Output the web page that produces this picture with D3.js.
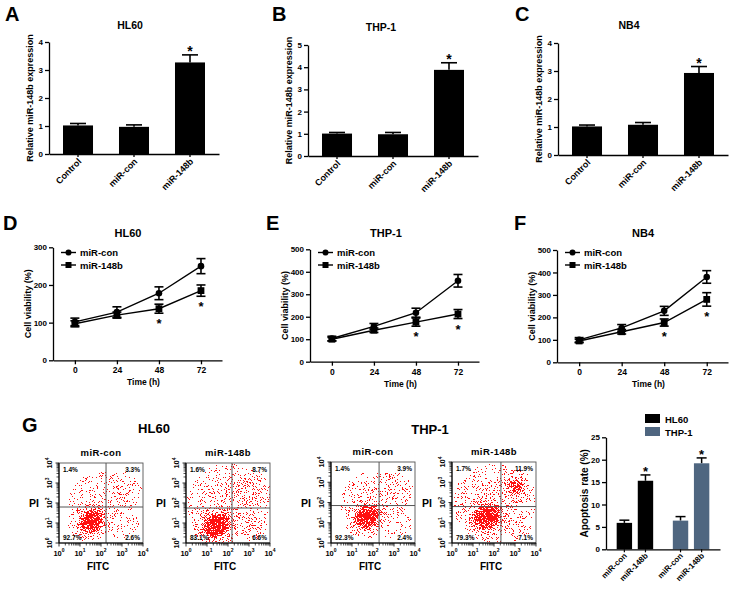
<!DOCTYPE html>
<html><head><meta charset="utf-8">
<script src="https://cdn.jsdelivr.net/npm/d3@7"></script>
<style>
body{margin:0;background:#fff}
svg{display:block}
text{font-family:"Liberation Sans",Arial,Helvetica,sans-serif;font-weight:bold;fill:#000}
</style>
</head><body>
<svg id="c" width="730" height="590"></svg>
<script>
// ---------------- DATA ----------------
const exprCategories = ["Control", "miR-con", "miR-148b"];
const hl60Expr = [1.02, 0.97, 3.27];
const hl60ExprErr = [0.07, 0.07, 0.27];
const thp1Expr = [1.01, 0.98, 3.88];
const thp1ExprErr = [0.05, 0.08, 0.32];
const nb4Expr = [1.02, 1.08, 2.93];
const nb4ExprErr = [0.05, 0.08, 0.23];
const exprStars = [0, 0, 1];

const timePoints = [0, 24, 48, 72];
const viabilitySeries = ["miR-con", "miR-148b"];
const hl60Con = [102, 128, 178, 250];
const hl60ConErr = [10, 14, 17, 20];
const hl60Mir = [97, 120, 137, 185];
const hl60MirErr = [8, 8, 12, 15];
const thp1Con = [103, 157, 218, 360];
const thp1ConErr = [10, 13, 20, 28];
const thp1Mir = [100, 140, 176, 212];
const thp1MirErr = [8, 10, 18, 20];
const nb4Con = [100, 153, 229, 380];
const nb4ConErr = [10, 15, 20, 28];
const nb4Mir = [95, 136, 177, 280];
const nb4MirErr = [8, 10, 16, 30];
const viabilityStars = [0, 0, 1, 1];

const flowCells = ["HL60", "HL60", "THP-1", "THP-1"];
const flowConditions = ["miR-con", "miR-148b", "miR-con", "miR-148b"];
const flowUL = ["1.4%", "1.6%", "1.4%", "1.7%"];
const flowUR = ["3.3%", "8.7%", "3.9%", "11.9%"];
const flowLL = ["92.7%", "83.1%", "92.3%", "79.3%"];
const flowLR = ["2.6%", "6.6%", "2.4%", "7.1%"];
const flowGateX = [2.24, 2.19, 2.29, 2.33];   // log10 FITC gate
const flowGateY = [1.80, 1.75, 1.85, 1.80];   // log10 PI gate
// density blobs of each cloud: [log FITC, log PI, rx, ry (decades), tilt deg, density]
const flowClouds = [
  [[2.0,2.0,2.8,2.8,0,0.03],[1.5,1.15,1.15,1.05,-40,0.35],[1.55,1.1,0.75,0.65,-40,1.0],[2.9,2.6,1.1,1.0,0,0.12],[3.0,0.9,0.9,0.7,0,0.08],[1.5,2.5,0.9,0.7,0,0.05]],
  [[2.0,2.0,2.8,2.8,0,0.045],[1.45,0.95,1.25,1.15,-40,0.4],[1.45,0.85,0.8,0.65,-40,1.0],[2.9,2.6,1.2,1.1,0,0.2],[3.0,0.9,0.9,0.8,0,0.14],[1.5,2.5,0.9,0.8,0,0.09]],
  [[2.0,2.0,2.8,2.8,0,0.03],[1.7,1.3,1.15,1.05,-40,0.35],[1.7,1.3,0.75,0.65,-40,1.0],[2.9,2.6,1.1,1.0,0,0.12],[3.0,0.9,0.9,0.7,0,0.08],[1.5,2.5,0.9,0.7,0,0.05]],
  [[2.0,2.0,2.8,2.8,0,0.045],[1.65,1.3,1.25,1.15,-40,0.4],[1.65,1.3,0.8,0.7,-40,1.0],[2.9,2.7,1.0,1.0,0,0.25],[3.0,2.8,0.5,0.5,0,0.55],[3.0,0.9,0.9,0.8,0,0.14],[1.5,2.5,0.9,0.8,0,0.09]]
];

const apopGroups = ["HL60", "THP-1"];
const apopConditions = ["miR-con", "miR-148b"];
const apopHL60 = [5.9, 15.3];
const apopHL60Err = [0.6, 1.3];
const apopTHP1 = [6.4, 19.2];
const apopTHP1Err = [0.9, 1.2];
const apopStars = [0, 1];
const apopColors = ["#000000", "#4f6680"];

// ---------------- DRAW ----------------
const svg = d3.select("#c");
const defs = svg.append("defs");

function label(g, x, y, s, size, anchor = "middle", rot = 0, weight = "bold") {
  return g.append("text")
    .attr("transform", `translate(${x},${y})` + (rot ? ` rotate(${rot})` : ""))
    .attr("text-anchor", anchor).attr("font-size", size).attr("font-weight", weight).text(s);
}
function styleAxis(a, fs) {
  a.selectAll("path,line").attr("stroke", "#000").attr("stroke-width", 1.3);
  a.selectAll("text").attr("font-size", fs).attr("font-weight", "bold")
    .attr("font-family", '"Liberation Sans",Arial,sans-serif');
}

// ---- Panels A-C ----
const barPanels = [
  {letter: "A", lx: 5, title: "HL60", tx: 130, ty: 29, x0: 49, yTop: 42, yBot: 154, max: 4, vals: hl60Expr, errs: hl60ExprErr},
  {letter: "B", lx: 272, title: "THP-1", tx: 381, ty: 31, x0: 308, yTop: 45, yBot: 156, max: 5, vals: thp1Expr, errs: thp1ExprErr},
  {letter: "C", lx: 515, title: "NB4", tx: 629, ty: 29, x0: 558, yTop: 43, yBot: 155, max: 4, vals: nb4Expr, errs: nb4ExprErr}
];
barPanels.forEach(p => {
  const g = svg.append("g");
  const x = d3.scaleBand().domain(exprCategories).range([p.x0, p.x0 + 170]).paddingInner(0.464).paddingOuter(0.25);
  const y = d3.scaleLinear().domain([0, p.max]).range([p.yBot, p.yTop]);
  const rows = exprCategories.map((c, i) => ({c, v: p.vals[i], e: p.errs[i], s: exprStars[i]}));
  g.selectAll("line.eb").data(rows).join("line")
    .attr("x1", d => x(d.c) + x.bandwidth() / 2).attr("x2", d => x(d.c) + x.bandwidth() / 2)
    .attr("y1", d => y(d.v)).attr("y2", d => y(d.v + d.e)).attr("stroke", "#000").attr("stroke-width", 1.6);
  g.selectAll("line.cap").data(rows).join("line")
    .attr("x1", d => x(d.c) + x.bandwidth() / 2 - 8).attr("x2", d => x(d.c) + x.bandwidth() / 2 + 8)
    .attr("y1", d => y(d.v + d.e)).attr("y2", d => y(d.v + d.e)).attr("stroke", "#000").attr("stroke-width", 1.6);
  g.selectAll("rect").data(rows).join("rect")
    .attr("x", d => x(d.c)).attr("y", d => y(d.v)).attr("width", x.bandwidth())
    .attr("height", d => p.yBot - y(d.v)).attr("fill", "#000");
  g.selectAll("text.star").data(rows.filter(d => d.s)).join("text")
    .attr("x", d => x(d.c) + x.bandwidth() / 2).attr("y", d => y(d.v + d.e) + 1)
    .attr("text-anchor", "middle").attr("font-size", 14).text("*");
  const ay = g.append("g").attr("transform", `translate(${p.x0},0)`)
    .call(d3.axisLeft(y).ticks(p.max).tickSize(4).tickSizeOuter(0).tickPadding(2).tickFormat(d3.format("d")));
  styleAxis(ay, 8);
  const ax = g.append("g").attr("transform", `translate(0,${p.yBot})`)
    .call(d3.axisBottom(x).tickSize(3).tickSizeOuter(0).tickFormat(""));
  styleAxis(ax, 8);
  exprCategories.forEach(c => label(g, x(c) + x.bandwidth() / 2 + 4, p.yBot + 8, c, 9, "end", -45));
  label(g, p.x0 - 16, (p.yTop + p.yBot) / 2, "Relative miR-148b expression", 9, "middle", -90);
  label(g, p.tx, p.ty, p.title, 10.5);
  label(g, p.lx, 21, p.letter, 20, "start");
});

// ---- Panels D-F ----
const linePanels = [
  {letter: "D", lx: 3, title: "HL60", tx: 128, x0: 53, x1: 222, yTop: 247.3, yBot: 360.3, max: 300,
   con: hl60Con, conErr: hl60ConErr, mir: hl60Mir, mirErr: hl60MirErr},
  {letter: "E", lx: 266, title: "THP-1", tx: 386, x0: 310, x1: 479, yTop: 249.3, yBot: 361.7, max: 500,
   con: thp1Con, conErr: thp1ConErr, mir: thp1Mir, mirErr: thp1MirErr},
  {letter: "F", lx: 514, title: "NB4", tx: 643, x0: 557, x1: 728, yTop: 250, yBot: 362.3, max: 500,
   con: nb4Con, conErr: nb4ConErr, mir: nb4Mir, mirErr: nb4MirErr}
];
linePanels.forEach(p => {
  const g = svg.append("g");
  const x = d3.scaleLinear().domain([-12.5, 84]).range([p.x0, p.x1]);
  const y = d3.scaleLinear().domain([0, p.max]).range([p.yBot, p.yTop]);
  const series = [
    {name: viabilitySeries[0], v: p.con, e: p.conErr, shape: "circle"},
    {name: viabilitySeries[1], v: p.mir, e: p.mirErr, shape: "square"}
  ];
  const line = d3.line().x((d, i) => x(timePoints[i])).y(d => y(d));
  series.forEach(s => {
    g.append("path").attr("d", line(s.v)).attr("fill", "none").attr("stroke", "#000").attr("stroke-width", 1.4);
    const pts = s.v.map((v, i) => ({t: timePoints[i], v, e: s.e[i]}));
    g.selectAll(null).data(pts).join("line")
      .attr("x1", d => x(d.t)).attr("x2", d => x(d.t)).attr("y1", d => y(d.v - d.e)).attr("y2", d => y(d.v + d.e))
      .attr("stroke", "#000").attr("stroke-width", 1.6);
    [-1, 1].forEach(sg => g.selectAll(null).data(pts).join("line")
      .attr("x1", d => x(d.t) - 4.5).attr("x2", d => x(d.t) + 4.5)
      .attr("y1", d => y(d.v + sg * d.e)).attr("y2", d => y(d.v + sg * d.e))
      .attr("stroke", "#000").attr("stroke-width", 1.6));
    if (s.shape === "circle") {
      g.selectAll(null).data(pts).join("circle").attr("cx", d => x(d.t)).attr("cy", d => y(d.v)).attr("r", 3.3).attr("fill", "#000");
    } else {
      g.selectAll(null).data(pts).join("rect").attr("x", d => x(d.t) - 3.4).attr("y", d => y(d.v) - 3.4)
        .attr("width", 6.8).attr("height", 6.8).attr("fill", "#000");
    }
  });
  const starPts = timePoints.map((t, i) => ({t, v: p.mir[i], e: p.mirErr[i], s: viabilityStars[i]})).filter(d => d.s);
  g.selectAll("text.star").data(starPts).join("text")
    .attr("x", d => x(d.t)).attr("y", d => y(d.v - d.e) + 15)
    .attr("text-anchor", "middle").attr("font-size", 13).text("*");
  const ay = g.append("g").attr("transform", `translate(${p.x0},0)`)
    .call(d3.axisLeft(y).ticks(p.max / 100).tickSize(4).tickSizeOuter(0).tickPadding(2).tickFormat(d3.format("d")));
  styleAxis(ay, 8);
  const ax = g.append("g").attr("transform", `translate(0,${p.yBot})`)
    .call(d3.axisBottom(x).tickValues(timePoints).tickSize(4).tickSizeOuter(0).tickPadding(3).tickFormat(d3.format("d")));
  styleAxis(ax, 8.5);
  label(g, (p.x0 + p.x1) / 2 + 6, p.yBot + 25, "Time (h)", 8.5);
  label(g, p.x0 - 22, (p.yTop + p.yBot) / 2, "Cell viability (%)", 9, "middle", -90);
  label(g, p.tx, 237, p.title, 11);
  label(g, p.lx, 230, p.letter, 20, "start");
  series.forEach((s, i) => {
    const ly = 252.5 + i * 12.5;
    g.append("line").attr("x1", p.x0 + 8).attr("x2", p.x0 + 23).attr("y1", ly).attr("y2", ly).attr("stroke", "#000").attr("stroke-width", 1.4);
    if (s.shape === "circle") g.append("circle").attr("cx", p.x0 + 15.5).attr("cy", ly).attr("r", 3).attr("fill", "#000");
    else g.append("rect").attr("x", p.x0 + 12.5).attr("y", ly - 3).attr("width", 6).attr("height", 6).attr("fill", "#000");
    label(g, p.x0 + 27, ly + 3.5, s.name, 9.5, "start");
  });
});

// ---- Panel G: flow plots ----
const rg = defs.append("radialGradient").attr("id", "blob");
rg.append("stop").attr("offset", "0%").attr("stop-color", "#fff").attr("stop-opacity", 1);
rg.append("stop").attr("offset", "50%").attr("stop-color", "#fff").attr("stop-opacity", 0.8);
rg.append("stop").attr("offset", "100%").attr("stop-color", "#fff").attr("stop-opacity", 0);
const flt = defs.append("filter").attr("id", "speckle").attr("filterUnits", "userSpaceOnUse")
  .attr("x", 0).attr("y", 0).attr("width", 730).attr("height", 590).attr("color-interpolation-filters", "sRGB");
flt.append("feTurbulence").attr("type", "fractalNoise").attr("baseFrequency", 1.25).attr("numOctaves", 2).attr("seed", 7).attr("result", "noise");
flt.append("feColorMatrix").attr("in", "noise").attr("type", "matrix")
  .attr("values", "0 0 0 0 0  0 0 0 0 0  0 0 0 0 0  3 0 0 0 -1").attr("result", "n");
flt.append("feComposite").attr("in", "SourceAlpha").attr("in2", "n").attr("operator", "arithmetic")
  .attr("k1", 0).attr("k2", 1).attr("k3", -1).attr("k4", 0.48).attr("result", "d");
flt.append("feComponentTransfer").attr("in", "d").attr("result", "t")
  .append("feFuncA").attr("type", "discrete").attr("tableValues", "0 1");
flt.append("feFlood").attr("flood-color", "#ff1010").attr("result", "red");
flt.append("feComposite").attr("in", "red").attr("in2", "t").attr("operator", "in");

const flowFrames = [
  {x0: 59, x1: 143, y0: 463, y1: 543},
  {x0: 186, x1: 270, y0: 463, y1: 543},
  {x0: 331, x1: 415, y0: 462, y1: 543},
  {x0: 452, x1: 536, y0: 462, y1: 543}
];
const decades = [1, 10, 100, 1000, 10000];
const minors = [];
[1, 10, 100, 1000].forEach(b => { for (let m = 2; m <= 9; m++) minors.push(b * m); });

flowFrames.forEach((f, i) => {
  const g = svg.append("g");
  const x = d3.scaleLog().domain([1, 1e4]).range([f.x0, f.x1]);
  const y = d3.scaleLog().domain([1, 1e4]).range([f.y1, f.y0]);
  const pxX = (f.x1 - f.x0) / 4, pxY = (f.y1 - f.y0) / 4;
  defs.append("clipPath").attr("id", "clip" + i).append("rect")
    .attr("x", f.x0).attr("y", f.y0).attr("width", f.x1 - f.x0).attr("height", f.y1 - f.y0);
  const cloud = g.append("g").attr("clip-path", `url(#clip${i})`).append("g").attr("filter", "url(#speckle)");
  cloud.selectAll("ellipse").data(flowClouds[i]).join("ellipse")
    .attr("transform", d => `translate(${x(Math.pow(10, d[0]))},${y(Math.pow(10, d[1]))}) rotate(${d[4]})`)
    .attr("rx", d => d[2] * pxX).attr("ry", d => d[3] * pxY)
    .attr("fill", "url(#blob)").attr("opacity", d => d[5]);
  g.append("rect").attr("x", f.x0).attr("y", f.y0).attr("width", f.x1 - f.x0).attr("height", f.y1 - f.y0)
    .attr("fill", "none").attr("stroke", "#555").attr("stroke-width", 0.9);
  const gx = x(Math.pow(10, flowGateX[i])), gy = y(Math.pow(10, flowGateY[i]));
  g.append("line").attr("x1", gx).attr("x2", gx).attr("y1", f.y0).attr("y2", f.y1).attr("stroke", "#555").attr("stroke-width", 1);
  g.append("line").attr("x1", f.x0).attr("x2", f.x1).attr("y1", gy).attr("y2", gy).attr("stroke", "#555").attr("stroke-width", 1);
  g.append("line").attr("x1", f.x0).attr("x2", f.x1).attr("y1", f.y1).attr("y2", f.y1).attr("stroke", "#000").attr("stroke-width", 1.1);
  g.append("line").attr("x1", f.x0).attr("x2", f.x0).attr("y1", f.y0).attr("y2", f.y1).attr("stroke", "#000").attr("stroke-width", 1.1);
  g.selectAll(null).data(minors).join("line").attr("x1", d => x(d)).attr("x2", d => x(d)).attr("y1", f.y1).attr("y2", f.y1 + 2.5).attr("stroke", "#000").attr("stroke-width", 0.7);
  g.selectAll(null).data(decades).join("line").attr("x1", d => x(d)).attr("x2", d => x(d)).attr("y1", f.y1).attr("y2", f.y1 + 3.5).attr("stroke", "#000").attr("stroke-width", 0.8);
  g.selectAll(null).data(minors).join("line").attr("y1", d => y(d)).attr("y2", d => y(d)).attr("x1", f.x0).attr("x2", f.x0 - 2.5).attr("stroke", "#000").attr("stroke-width", 0.7);
  g.selectAll(null).data(decades).join("line").attr("y1", d => y(d)).attr("y2", d => y(d)).attr("x1", f.x0).attr("x2", f.x0 - 3.5).attr("stroke", "#000").attr("stroke-width", 0.8);
  decades.forEach((d, k) => {
    const tx = g.append("text").attr("x", x(d)).attr("y", f.y1 + 12.5).attr("text-anchor", "middle")
      .attr("font-size", 7.5).attr("font-weight", "normal");
    tx.append("tspan").text("10");
    tx.append("tspan").attr("dy", -3.5).attr("font-size", 5).text(k);
    const ty = g.append("text").attr("transform", `translate(${f.x0 - 7},${y(d)}) rotate(-90)`).attr("text-anchor", "middle")
      .attr("font-size", 7.5).attr("font-weight", "normal");
    ty.append("tspan").text("10");
    ty.append("tspan").attr("dy", -3.5).attr("font-size", 5).text(k);
  });
  label(g, f.x0 + 4, f.y0 + 9, flowUL[i], 6.5, "start");
  label(g, f.x1 - 3, f.y0 + 9, flowUR[i], 6.5, "end");
  label(g, f.x0 + 4, f.y1 - 3, flowLL[i], 6.5, "start");
  label(g, f.x1 - 3, f.y1 - 3, flowLR[i], 6.5, "end");
  label(g, (f.x0 + f.x1) / 2, f.y0 - 7, flowConditions[i], 9.5).attr("letter-spacing", 0.4);
  label(g, (f.x0 + f.x1) / 2 - 3, f.y1 + 27, "FITC", 10);
  label(g, f.x0 - 25, (f.y0 + f.y1) / 2 + 4, "PI", 10.5);
});
label(svg, 154, 433, flowCells[0], 13);
label(svg, 430, 434, flowCells[2], 13);
label(svg, 22, 432, "G", 20, "start");

// ---- Panel G: apoptosis bars ----
{
  const g = svg.append("g");
  const x0 = 606, x1 = 720, yTop = 437.3, yBot = 549.3;
  const gx = d3.scaleBand().domain(apopGroups).range([x0, x1]).paddingInner(0.35).paddingOuter(0.19);
  const cx = d3.scaleBand().domain(apopConditions).range([0, gx.bandwidth()]).paddingInner(0.27);
  const y = d3.scaleLinear().domain([0, 25]).range([yBot, yTop]);
  const rows = [];
  apopGroups.forEach((gr, gi) => apopConditions.forEach((c, ci) => {
    const v = gi === 0 ? apopHL60[ci] : apopTHP1[ci];
    const e = gi === 0 ? apopHL60Err[ci] : apopTHP1Err[ci];
    rows.push({gr, gi, c, v, e, s: apopStars[ci], xc: gx(gr) + cx(c) + cx.bandwidth() / 2});
  }));
  g.selectAll("line.eb").data(rows).join("line").attr("x1", d => d.xc).attr("x2", d => d.xc)
    .attr("y1", d => y(d.v)).attr("y2", d => y(d.v + d.e)).attr("stroke", "#000").attr("stroke-width", 1.5);
  g.selectAll("line.cap").data(rows).join("line").attr("x1", d => d.xc - 5).attr("x2", d => d.xc + 5)
    .attr("y1", d => y(d.v + d.e)).attr("y2", d => y(d.v + d.e)).attr("stroke", "#000").attr("stroke-width", 1.5);
  g.selectAll("rect").data(rows).join("rect").attr("x", d => gx(d.gr) + cx(d.c)).attr("y", d => y(d.v))
    .attr("width", cx.bandwidth()).attr("height", d => yBot - y(d.v)).attr("fill", d => apopColors[d.gi]);
  g.selectAll("text.star").data(rows.filter(d => d.s)).join("text").attr("x", d => d.xc).attr("y", d => y(d.v + d.e) + 1)
    .attr("text-anchor", "middle").attr("font-size", 13).text("*");
  const ay = g.append("g").attr("transform", `translate(${x0},0)`)
    .call(d3.axisLeft(y).tickValues([0, 5, 10, 15, 20, 25]).tickSize(4).tickSizeOuter(0).tickPadding(2));
  styleAxis(ay, 8);
  const ax = g.append("g").attr("transform", `translate(0,${yBot})`)
    .call(d3.axisBottom(gx).tickSize(0).tickSizeOuter(0).tickFormat(""));
  styleAxis(ax, 8);
  rows.forEach(d => {
    g.append("line").attr("x1", d.xc).attr("x2", d.xc).attr("y1", yBot).attr("y2", yBot + 3).attr("stroke", "#000").attr("stroke-width", 1.2);
    label(g, d.xc + 3, yBot + 7, d.c, 8, "end", -45);
  });
  label(g, 588, (yTop + yBot) / 2, "Apoptosis rate (%)", 10, "middle", -90);
  apopGroups.forEach((gr, gi) => {
    g.append("rect").attr("x", 645).attr("y", 414 + gi * 13).attr("width", 15).attr("height", 9).attr("fill", apopColors[gi]);
    label(g, 665, 422.5 + gi * 13, gr, 9.5, "start");
  });
}
</script>
</body></html>
